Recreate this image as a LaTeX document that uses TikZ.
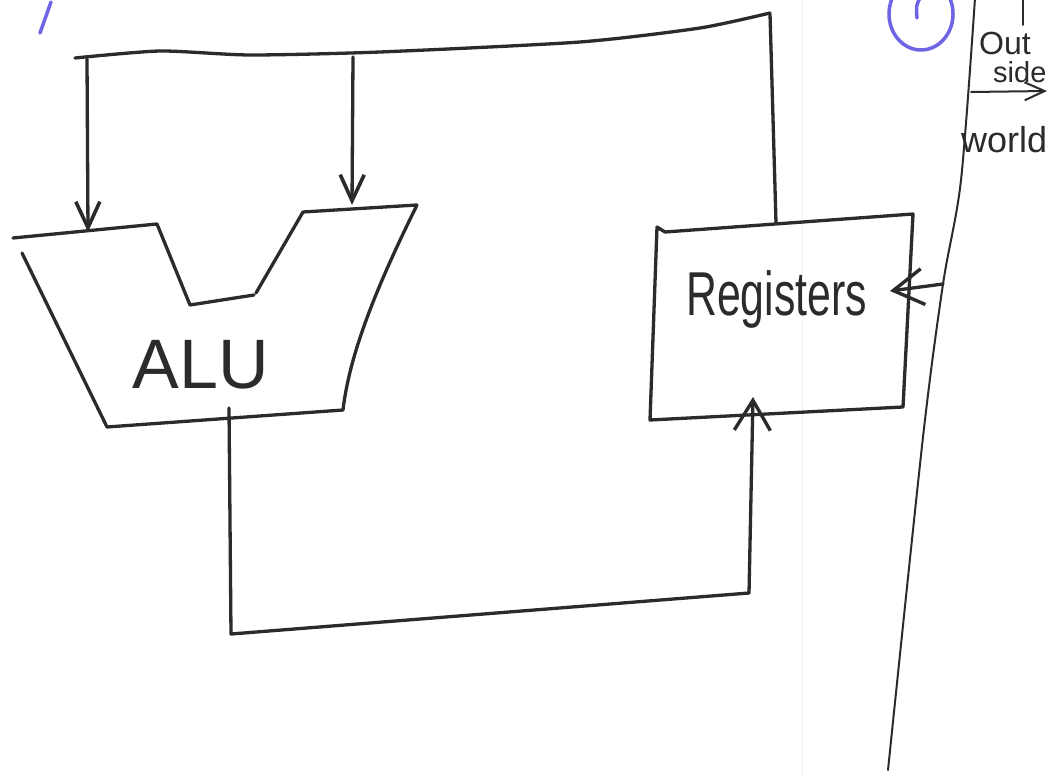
\documentclass[tikz,border=0pt]{standalone}
\usepackage{fontspec}
\setmainfont{Liberation Sans}
\usetikzlibrary{arrows.meta}
\definecolor{pen}{RGB}{45,42,44}
\definecolor{bluepen}{RGB}{110,100,228}
\begin{document}
\begin{tikzpicture}[x=1pt,y=-1pt, line cap=round, line join=round,
  ink/.style={draw=pen, line width=3.3pt},
  thinink/.style={draw=pen, line width=2pt},
  blueink/.style={draw=bluepen, line width=3.5pt},
  bigbarb/.style={-{Straight Barb[length=26pt,width=24pt,line width=3.6pt]}},
  hugebarb/.style={-{Straight Barb[length=30pt,width=36pt,line width=3.4pt]}},
  smallbarb/.style={-{Straight Barb[length=20pt,width=18pt,line width=2pt]}},
  lbl/.style={inner sep=0pt, text=pen}]
\fill[white] (0,0) rectangle (1056,775);
\useasboundingbox (0,0) rectangle (1056,775);
% faint page fold
\draw[black!6, line width=1pt] (802,0) -- (802,775);

% blue marks
\draw[blueink] (40,33) -- (51,2);
\draw[blueink] (921,14) ellipse [x radius=32, y radius=36];
\draw[blueink] (920,-2) .. controls (916,6) .. (917,18);

% named points
\coordinate (busL) at (75,58);
\coordinate (busA) at (87,59);
\coordinate (busB) at (353,57);
\coordinate (busR) at (770,14);
\coordinate (inA) at (88,232);
\coordinate (inB) at (352,205);
\coordinate (regTop) at (776,223);
\coordinate (aluOut) at (229,408);
\coordinate (loopBL) at (231,634);
\coordinate (loopBR) at (749,593);
\coordinate (regBot) at (753,397);
\coordinate (wallIn) at (943,284);
\coordinate (regRight) at (890,291);
\coordinate (osStart) at (971,92);
\coordinate (osEnd) at (1047,91);

% top bus
\draw[ink] plot[smooth, tension=0.4] coordinates {(75,58) (160,51) (250,55) (380,52) (580,42) (700,28) (770,13)};
\draw[ink, bigbarb] (busA) -- (inA);
\draw[ink, bigbarb] (busB) -- (inB);
\draw[ink] (busR) -- (regTop);

% ALU shape
\draw[ink] (13,238) -- (157,224) -- (190,305) -- (254,295);
\draw[ink] (256,293) -- (303,212) -- (417,205) .. controls (380,280) and (350,350) .. (343,410) -- (107,427) -- (22,253);
\node[lbl, anchor=base, font=\fontsize{70}{70}\selectfont] (alu) at (201,388) {ALU};

% Registers box
\draw[ink] (657,227) -- (665,232) -- (913,214) -- (903,407) -- (650,420) -- cycle;
\node[lbl, anchor=base west, font=\fontsize{62}{62}\selectfont, xscale=0.69] (reg) at (686,315) {Registers};

% loop ALU -> Registers
\draw[ink] (aluOut) -- (loopBL) -- (loopBR);
\draw[ink, hugebarb] (loopBR) -- (regBot);

% outside wall
\draw[thinink] plot[smooth, tension=0.5] coordinates {(975,-2) (961,180) (943,284) (923,437) (888,770)};
\draw[thinink] (1023,0) -- (1023,25);
\draw[ink, hugebarb] (wallIn) -- (regRight);
\draw[thinink, smallbarb] (osStart) -- (osEnd);
\node[lbl, anchor=base west, font=\fontsize{32}{32}\selectfont] (out) at (979,55) {Out};
\node[lbl, anchor=base west, font=\fontsize{29}{29}\selectfont] (side) at (993,83) {side};
\node[lbl, anchor=base west, font=\fontsize{36}{36}\selectfont] (world) at (961,153) {world};
\end{tikzpicture}
\end{document}
